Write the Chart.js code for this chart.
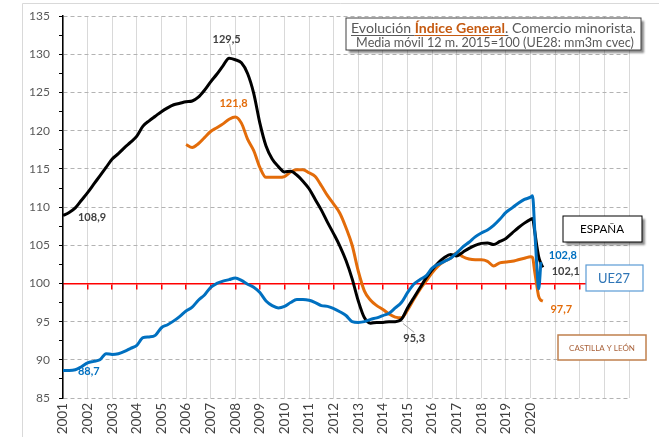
<!DOCTYPE html>
<html>
<head>
<meta charset="utf-8">
<script src="https://cdn.jsdelivr.net/npm/chart.js@4.4.1/dist/chart.umd.min.js"></script>
<style>
  html, body { margin: 0; padding: 0; background: #fff; }
  canvas { display: block; }
</style>
</head>
<body>
<canvas id="grafico" width="659" height="437"></canvas>
<script>
// Fechas (trimestrales, y mensuales al final de la serie)
const fechas = [
  2001, 2001.25, 2001.5, 2001.75,
  2002, 2002.25, 2002.5, 2002.75,
  2003, 2003.25, 2003.5, 2003.75,
  2004, 2004.25, 2004.5, 2004.75,
  2005, 2005.25, 2005.5, 2005.75,
  2006, 2006.25, 2006.5, 2006.75,
  2007, 2007.25, 2007.5, 2007.75,
  2008, 2008.25, 2008.5, 2008.75,
  2009, 2009.25, 2009.5, 2009.75,
  2010, 2010.25, 2010.5, 2010.75,
  2011, 2011.25, 2011.5, 2011.75,
  2012, 2012.25, 2012.5, 2012.75,
  2013, 2013.25, 2013.5, 2013.75,
  2014, 2014.25, 2014.5, 2014.75,
  2015, 2015.25, 2015.5, 2015.75,
  2016, 2016.25, 2016.5, 2016.75,
  2017, 2017.25, 2017.5, 2017.75,
  2018, 2018.25, 2018.5, 2018.75,
  2019, 2019.25, 2019.5, 2019.75,
  2020, 2020.08, 2020.17, 2020.25, 2020.33, 2020.42, 2020.5
];

const espana = [
  108.9, 109.3, 109.9, 110.9,
  111.9, 113.0, 114.1, 115.2,
  116.3, 117.0, 117.8, 118.5,
  119.3, 120.6, 121.3, 121.9,
  122.5, 123.0, 123.4, 123.6,
  123.8, 123.9, 124.4, 125.3,
  126.4, 127.4, 128.5, 129.5,
  129.3, 128.9, 127.5, 124.9,
  121.0, 118.0, 116.3, 115.3,
  114.6, 114.7, 114.2, 113.4,
  112.4, 111.0, 109.6, 108.0,
  106.5, 104.9, 103.0, 100.6,
  97.7, 95.5, 94.8, 94.9,
  94.9, 95.0, 95.0, 95.3,
  96.8, 98.1, 99.4, 100.7,
  101.8, 102.7, 103.4, 103.8,
  103.6, 104.1, 104.6, 105.0,
  105.25, 105.3, 105.1, 105.5,
  105.9, 106.6, 107.3, 107.9,
  108.4, 108.5, 106.8, 105.0, 103.5, 102.6, 102.1
];

const castillaLeon = [
  null, null, null, null,
  null, null, null, null,
  null, null, null, null,
  null, null, null, null,
  null, null, null, null,
  118.2, 117.8, 118.3, 119.1,
  119.9, 120.4, 120.9, 121.5,
  121.8, 121.0, 118.9, 117.4,
  115.2, 113.9, 113.9, 113.9,
  114.0, 114.6, 114.9, 114.9,
  114.5, 114.0, 112.8, 111.5,
  110.4, 109.2, 107.3, 105.0,
  101.6, 99.0, 97.8, 97.1,
  96.6, 96.0, 95.6, 95.5,
  96.5, 97.9, 99.2, 100.3,
  101.4, 102.3, 102.9, 103.3,
  104.0, 103.5, 103.2, 103.1,
  103.1, 102.9, 102.3, 102.7,
  102.8, 102.9, 103.1, 103.3,
  103.5, 103.4, 101.5, 99.8, 98.3, 97.8, 97.7
];

const ue27 = [
  88.6, 88.6, 88.7, 89.1,
  89.6, 89.8, 90.0, 90.8,
  90.7, 90.8, 91.1, 91.5,
  91.9, 92.9, 93.0, 93.2,
  94.2, 94.6, 95.1, 95.7,
  96.4, 96.9, 97.8, 98.5,
  99.5, 100.0, 100.3, 100.5,
  100.7, 100.4, 99.9, 99.5,
  98.8, 97.7, 97.1, 96.8,
  97.0, 97.5, 97.9, 97.9,
  97.8, 97.5, 97.1, 97.0,
  96.7, 96.3, 95.8, 95.0,
  94.9, 95.0, 95.3, 95.5,
  95.8, 96.1, 96.8, 97.5,
  98.8, 99.9, 100.5, 101.0,
  102.0, 102.5, 102.9, 103.3,
  104.0, 104.8, 105.4, 106.1,
  106.6, 107.0, 107.6, 108.4,
  109.3, 109.9, 110.5, 111.0,
  111.3, 111.5, 107.0, 102.5, 99.3, 102.8, null
];

const primerAnio = 2001;
const ultimoAnioEtiqueta = 2020;
const finEje = 2024;
const yMin = 85, yMax = 135;

// Etiquetas de valores (texto, posición en unidades del gráfico)
const etiquetas = [
  { texto: '108,9', x: 2002.18, y: 108.7, color: '#404040' },
  { texto: '88,7', x: 2002.05, y: 88.5, color: '#0070C0' },
  { texto: '129,5', x: 2007.65, y: 132.0, color: '#404040' },
  { texto: '121,8', x: 2007.93, y: 123.6, color: '#E36C0A' },
  { texto: '95,3', x: 2015.27, y: 92.8, color: '#404040' },
  { texto: '102,8', x: 2021.31, y: 103.65, color: '#0070C0' },
  { texto: '102,1', x: 2021.43, y: 101.6, color: '#404040' },
  { texto: '97,7', x: 2021.25, y: 96.65, color: '#E36C0A' }
];
const guias = [
  [2007.77, 131.35, 2007.85, 129.95],
  [2014.82, 94.75, 2015.27, 93.6]
];

const fuente = 'Lato';
Chart.defaults.font.family = fuente;

function puntos(valores) {
  return fechas.map((f, i) => ({ x: f, y: valores[i] }));
}

function textoAjustado(ctx, txt, cx, cy, ancho, peso, color) {
  ctx.font = `${peso} 20px ${fuente}`;
  const size = 20 * ancho / ctx.measureText(txt).width;
  ctx.font = `${peso} ${size}px ${fuente}`;
  ctx.fillStyle = color;
  ctx.textAlign = 'center';
  ctx.textBaseline = 'middle';
  ctx.fillText(txt, cx, cy);
}

function caja(ctx, x, y, w, h, borde, grosor, sombra) {
  ctx.save();
  if (sombra) {
    ctx.shadowColor = 'rgba(0,0,0,0.45)';
    ctx.shadowOffsetX = 3;
    ctx.shadowOffsetY = 3;
    ctx.shadowBlur = 2;
  }
  ctx.fillStyle = '#fff';
  ctx.fillRect(x, y, w, h);
  ctx.restore();
  ctx.save();
  ctx.strokeStyle = borde;
  ctx.lineWidth = grosor;
  ctx.strokeRect(x, y, w, h);
  ctx.restore();
}

const decoracion = {
  id: 'decoracion',
  beforeDraw(chart) {
    const ctx = chart.ctx;
    ctx.save();
    ctx.fillStyle = '#fff';
    ctx.fillRect(0, 0, chart.width, chart.height);
    ctx.strokeStyle = '#d9d9d9';
    ctx.lineWidth = 1;
    ctx.beginPath();
    ctx.moveTo(22.5, chart.height);
    ctx.lineTo(22.5, 3.5);
    ctx.lineTo(chart.width, 3.5);
    ctx.stroke();
    ctx.restore();
  },
  afterDatasetsDraw(chart) {
    const ctx = chart.ctx;
    const sx = chart.scales.x, sy = chart.scales.y;
    ctx.save();
    // líneas guía
    ctx.strokeStyle = '#a6a6a6';
    ctx.lineWidth = 1;
    guias.forEach(g => {
      ctx.beginPath();
      ctx.moveTo(sx.getPixelForValue(g[0]), sy.getPixelForValue(g[1]));
      ctx.lineTo(sx.getPixelForValue(g[2]), sy.getPixelForValue(g[3]));
      ctx.stroke();
    });
    // etiquetas de datos
    ctx.font = `bold 11px ${fuente}`;
    ctx.textAlign = 'center';
    ctx.textBaseline = 'middle';
    etiquetas.forEach(e => {
      ctx.fillStyle = e.color;
      ctx.fillText(e.texto, sx.getPixelForValue(e.x), sy.getPixelForValue(e.y));
    });

    // título
    caja(ctx, 346, 18, 295, 32, '#404040', 1, true);
    const partes = [
      { t: 'Evolución ', peso: 'normal', color: '#595959', sub: true },
      { t: 'Índice General', peso: 'bold', color: '#C55A11', sub: true },
      { t: '.', peso: 'normal', color: '#595959', sub: true },
      { t: ' Comercio minorista.', peso: 'normal', color: '#595959', sub: false }
    ];
    let total = 0;
    partes.forEach(p => {
      ctx.font = `${p.peso} 20px ${fuente}`;
      total += ctx.measureText(p.t).width;
    });
    const escala = 285 / total;
    let px = 351;
    const base = 33;
    ctx.textAlign = 'left';
    ctx.textBaseline = 'alphabetic';
    partes.forEach(p => {
      ctx.font = `${p.peso} ${20 * escala}px ${fuente}`;
      const w = ctx.measureText(p.t).width;
      ctx.fillStyle = p.color;
      ctx.fillText(p.t, px, base);
      if (p.sub) {
        ctx.strokeStyle = p.color;
        ctx.lineWidth = 1;
        ctx.beginPath();
        ctx.moveTo(px, base + 2.5);
        ctx.lineTo(px + w, base + 2.5);
        ctx.stroke();
      }
      px += w;
    });
    textoAjustado(ctx, 'Media móvil 12 m. 2015=100 (UE28: mm3m cvec)', 495, 43, 278, 'normal', '#595959');

    // recuadros de series
    caja(ctx, 563, 216, 79, 26, '#000', 1, true);
    textoAjustado(ctx, 'ESPAÑA', 602, 229.5, 44, 'normal', '#000');
    caja(ctx, 586, 265, 57, 26, '#5B9BD5', 1.2, false);
    textoAjustado(ctx, 'UE27', 614, 278.5, 32, 'normal', '#2E75B6');
    caja(ctx, 558, 335, 88, 25, '#C0804D', 1.5, false);
    textoAjustado(ctx, 'CASTILLA Y LEÓN', 602, 348, 66, 'normal', '#A9623A');
    ctx.restore();
  }
};

const datos = {
  datasets: [
    { label: 'UE27', data: puntos(ue27), borderColor: '#0070C0', borderWidth: 3 },
    { label: 'España', data: puntos(espana), borderColor: '#000000', borderWidth: 3 },
    { label: 'Castilla y León', data: puntos(castillaLeon), borderColor: '#E36C0A', borderWidth: 3 }
  ]
};

new Chart(document.getElementById('grafico'), {
  type: 'line',
  data: datos,
  options: {
    responsive: false,
    animation: false,
    devicePixelRatio: 1,
    layout: { padding: { left: 0, top: 12, right: 30, bottom: 0 } },
    elements: {
      point: { radius: 0 },
      line: { cubicInterpolationMode: 'monotone', spanGaps: false }
    },
    plugins: { legend: { display: false }, tooltip: { enabled: false } },
    scales: {
      x: {
        type: 'linear',
        position: 'bottom',
        min: primerAnio,
        max: finEje,
        afterFit: s => { s.height = 39; },
        grid: { color: '#d9d9d9', lineWidth: 1, drawTicks: false },
        border: { display: false },
        ticks: {
          stepSize: 1,
          autoSkip: false,
          includeBounds: false,
          maxRotation: 90,
          minRotation: 90,
          padding: 5,
          color: '#404040',
          font: { size: 13.5 },
          callback: v => (v <= ultimoAnioEtiqueta ? String(v) : '')
        }
      },
      xCien: {
        type: 'linear',
        position: { y: 100 },
        min: primerAnio,
        max: finEje,
        grid: { drawOnChartArea: false, color: '#FF0000', lineWidth: 1.5, tickLength: 5 },
        border: { display: true, color: '#FF0000', width: 1.5 },
        ticks: { display: false, stepSize: 1, includeBounds: false }
      },
      y: {
        position: 'left',
        min: yMin,
        max: yMax,
        afterFit: s => { s.width = 63; },
        grid: {
          color: c => (c.tick && c.tick.value % 5 === 0 ? '#b3b3b3' : 'transparent'),
          tickColor: '#000',
          tickLength: 4,
          lineWidth: 1
        },
        border: { display: true, color: '#000', width: 1.5, dash: [4, 3] },
        ticks: {
          stepSize: 2.5,
          padding: 9,
          color: '#595959',
          font: { size: 12 },
          callback: v => (v % 5 === 0 ? String(v) : '')
        }
      }
    }
  },
  plugins: [decoracion]
});
</script>
</body>
</html>
